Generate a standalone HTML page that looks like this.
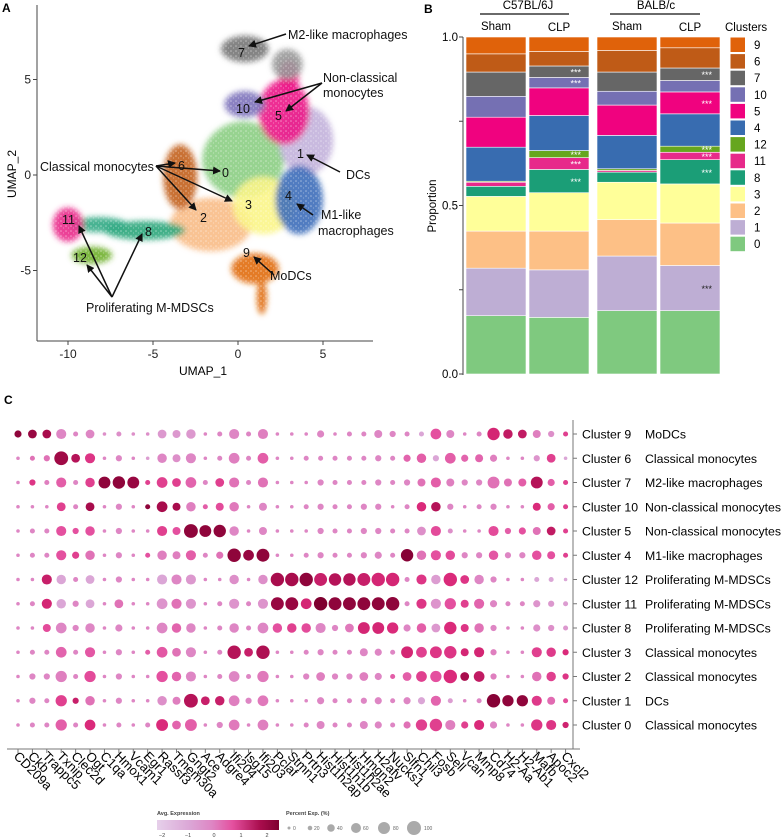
<!DOCTYPE html>
<html><head><meta charset="utf-8"><style>
html,body{margin:0;padding:0;background:#fff;}
svg{display:block;font-family:"Liberation Sans",Arial,sans-serif;}
</style></head><body>
<svg id="fig" width="782" height="837" viewBox="0 0 782 837" xmlns="http://www.w3.org/2000/svg">
<defs>
<marker id="ah" markerWidth="8" markerHeight="8" refX="7" refY="4" orient="auto" markerUnits="userSpaceOnUse"><path d="M0,0 L8,4 L0,8 z" fill="#111"/></marker>
<filter id="bl"><feGaussianBlur stdDeviation="3"/></filter>
<pattern id="speck" width="5" height="5" patternUnits="userSpaceOnUse"><rect width="5" height="5" fill="none"/><circle cx="1" cy="1" r="0.8" fill="#fff" opacity="0.45"/><circle cx="3.5" cy="3" r="0.6" fill="#fff" opacity="0.35"/></pattern>
<linearGradient id="expgrad" x1="0" x2="1" y1="0" y2="0">
<stop offset="0" stop-color="#e6d0ea"/><stop offset="0.27" stop-color="#dba6d6"/><stop offset="0.45" stop-color="#de86c4"/><stop offset="0.62" stop-color="#e4509f"/><stop offset="0.85" stop-color="#a80c4c"/><stop offset="1" stop-color="#7f0030"/>
</linearGradient>
</defs>
<!-- Panel A -->
<g>
<text x="2" y="12" font-size="12" font-weight="bold">A</text>
<g id="umapBlobs" filter="url(#bl)"></g>
<rect x="40" y="30" width="300" height="280" fill="url(#speck)"/>
<line x1="37" y1="5" x2="37" y2="341" stroke="#444"/>
<line x1="37" y1="341" x2="373" y2="341" stroke="#444"/>
<g id="umapTicks" font-size="12" fill="#222"></g>
<text x="203" y="375" font-size="12" text-anchor="middle">UMAP_1</text>
<text transform="translate(16,174) rotate(-90)" font-size="12" text-anchor="middle">UMAP_2</text>
<g font-size="12.5" fill="#111">
<text x="238" y="57">7</text><text x="236" y="113">10</text><text x="275" y="120">5</text><text x="297" y="158">1</text>
<text x="222" y="177">0</text><text x="178" y="170">6</text><text x="245" y="209">3</text><text x="200" y="222">2</text>
<text x="285" y="200">4</text><text x="243" y="257">9</text><text x="145" y="236">8</text><text x="62" y="224">11</text><text x="73" y="262">12</text>
</g>
<g stroke="#111" stroke-width="1.5" marker-end="url(#ah)">
<line x1="286" y1="34" x2="249" y2="46"/>
<line x1="322" y1="83" x2="255" y2="102"/><line x1="322" y1="83" x2="286" y2="111"/>
<line x1="156" y1="166" x2="175" y2="163"/><line x1="156" y1="166" x2="220" y2="171"/>
<line x1="156" y1="166" x2="232" y2="201"/><line x1="156" y1="166" x2="196" y2="210"/>
<line x1="340" y1="172" x2="307" y2="155"/><line x1="313" y1="215" x2="297" y2="204"/>
<line x1="274" y1="275" x2="254" y2="257"/>
<line x1="112" y1="297" x2="79" y2="226"/><line x1="112" y1="297" x2="87" y2="265"/><line x1="112" y1="297" x2="142" y2="234"/>
</g>
<g font-size="12.5" fill="#111">
<text x="288" y="39">M2-like macrophages</text>
<text x="323" y="82">Non-classical</text><text x="323" y="97">monocytes</text>
<text x="40" y="171">Classical monocytes</text>
<text x="346" y="179">DCs</text>
<text x="321" y="219">M1-like</text><text x="318" y="235">macrophages</text>
<text x="270" y="280">MoDCs</text>
<text x="86" y="312">Proliferating M-MDSCs</text>
</g>
</g>
<!-- Panel B -->
<g>
<text x="424" y="13" font-size="12" font-weight="bold">B</text>
<text x="528" y="9" font-size="11.5" text-anchor="middle">C57BL/6J</text>
<line x1="480" y1="14" x2="569" y2="14" stroke="#111" stroke-width="1.3"/>
<text x="656" y="9" font-size="11.5" text-anchor="middle">BALB/c</text>
<line x1="610" y1="14" x2="700" y2="14" stroke="#111" stroke-width="1.3"/>
<g id="bars"></g>
<line x1="463" y1="37" x2="463" y2="375" stroke="#444"/>
<g id="propTicks" font-size="11.5"></g>
<text transform="translate(436,206) rotate(-90)" font-size="11.5" text-anchor="middle">Proportion</text>
<text x="725" y="31" font-size="11.5">Clusters</text>
<g id="legend" font-size="11.5"></g>
</g>
<!-- Panel C -->
<g>
<text x="4" y="404" font-size="12" font-weight="bold">C</text>
<line x1="573" y1="420" x2="573" y2="749" stroke="#777"/>
<line x1="7" y1="749" x2="580" y2="749" stroke="#777"/>
<g id="dots"></g>
<g id="rowLabels" font-size="12.3"></g>
<g id="geneLabels" font-size="13"></g>
<g>
<text x="157" y="815" font-size="5.5" font-weight="bold" fill="#444">Avg. Expression</text>
<rect x="157" y="820" width="122" height="10" fill="url(#expgrad)"/>
<g font-size="5.5" fill="#444" text-anchor="middle"><text x="162" y="837">−2</text><text x="188" y="837">−1</text><text x="214" y="837">0</text><text x="241" y="837">1</text><text x="267" y="837">2</text></g>
</g>
<g fill="#aaa">
<text x="286" y="815" font-size="5.5" font-weight="bold" fill="#444">Percent Exp. (%)</text>
<circle cx="289" cy="828" r="1.5"/><text x="293" y="830" font-size="5" fill="#666">0</text>
<circle cx="310" cy="828" r="2.3"/><text x="314" y="830" font-size="5" fill="#666">20</text>
<circle cx="331" cy="828" r="3.8"/><text x="337" y="830" font-size="5" fill="#666">40</text>
<circle cx="356" cy="828" r="5"/><text x="363" y="830" font-size="5" fill="#666">60</text>
<circle cx="384" cy="828" r="6"/><text x="393" y="830" font-size="5" fill="#666">80</text>
<circle cx="414" cy="828" r="7"/><text x="424" y="830" font-size="5" fill="#666">100</text>
</g>
</g>
</svg>
<script>
const NS="http://www.w3.org/2000/svg";
function mk(tag,attrs,parent){const e=document.createElementNS(NS,tag);for(const k in attrs)e.setAttribute(k,attrs[k]);parent.appendChild(e);return e;}

/* ---------- Panel A data ---------- */
const umapTicksX=[-10,-5,0,5];
const umapTicksY=[5,0,-5];
const umapClusters=["7","7b","5","5b","10","1","4","0","3","2","6","9","9b","8","8b","11","12"];
const umapCU=[0.4,2.9,2.7,3.0,0.4,4.0,3.6,0.3,1.5,-1.6,-3.4,1.0,1.4,-5.5,-8.2,-10,-8.6];
const umapCV=[6.6,5.8,3.3,5.2,3.7,1.8,-1.3,0.8,-1.6,-2.6,-0.1,-4.9,-6.4,-2.9,-2.6,-2.6,-4.2];
const umapRU=[1.4,0.9,1.5,0.6,1.2,1.6,1.4,2.4,1.8,2.4,1.0,1.4,0.3,2.4,1.7,0.9,1.2];
const umapRV=[0.7,0.8,1.7,0.8,0.7,1.8,1.8,2.0,1.5,1.4,1.7,0.8,0.9,0.5,0.4,0.9,0.45];
const umapColor={"7":"#777","7b":"#999","5":"#ec1a88","5b":"#ec1a88","10":"#7e74bb","1":"#c3b3dc","4":"#3f6fba","0":"#8cce84","3":"#fbf58a","2":"#f8bd87","6":"#c3621d","9":"#e16d12","9b":"#e06d10","8":"#2ea77c","8b":"#34ab86","11":"#ea2c8c","12":"#70b02c"};
const ux=u=>238+17*u, uy=v=>175-19.1*v;
const blobs=document.getElementById('umapBlobs');
["2","0","3","6","1","4","5","5b","10","7b","7","9","9b","8","8b","11","12"].forEach(c=>{
  const i=umapClusters.indexOf(c);
  const el=mk('ellipse',{cx:ux(umapCU[i]),cy:uy(umapCV[i]),rx:umapRU[i]*17,ry:umapRV[i]*19.1,fill:umapColor[c],opacity:0.9},blobs);
  
  
});
const ut=document.getElementById('umapTicks');
umapTicksX.forEach(t=>{mk('line',{x1:ux(t),x2:ux(t),y1:341,y2:345,stroke:'#444'},ut);const e=mk('text',{x:ux(t),y:358,'text-anchor':'middle'},ut);e.textContent=t;
  
  });
umapTicksY.forEach(t=>{mk('line',{x1:33,x2:37,y1:uy(t),y2:uy(t),stroke:'#444'},ut);const e=mk('text',{x:31,y:uy(t)+4,'text-anchor':'end'},ut);e.textContent=t;
  
  });

/* ---------- Panel B data ---------- */
const stackOrder=["0","1","2","3","8","11","12","4","5","10","7","6","9"];
const clusterColors=["#7fc97f","#beaed4","#fdc086","#ffff99","#1b9e77","#e7298a","#66a61e","#386cb0","#f0027f","#7570b3","#666666","#bf5b17","#e0620a"];
const barGroups=["Sham","CLP","Sham","CLP"];
const propC57Sham=[0.173,0.141,0.110,0.103,0.030,0.012,0.003,0.101,0.089,0.062,0.072,0.054,0.050];
const propC57CLP=[0.168,0.141,0.115,0.114,0.069,0.035,0.021,0.104,0.082,0.031,0.034,0.043,0.043];
const propBalbSham=[0.188,0.162,0.108,0.111,0.030,0.005,0.005,0.099,0.090,0.041,0.057,0.064,0.040];
const propBalbCLP=[0.188,0.134,0.126,0.116,0.072,0.022,0.018,0.096,0.065,0.034,0.037,0.060,0.032];
const sigC57CLP=["8","11","12","10","7"];
const sigBalbCLP=["1","8","11","12","5","7"];
const propTicks=[0,0.5,1];
const py=p=>374-337*p;
const barX=[466,529,597,660], barW=60;
const series=[propC57Sham,propC57CLP,propBalbSham,propBalbCLP];
const sigs=[[],sigC57CLP,[],sigBalbCLP];
const bars=document.getElementById('bars');
series.forEach((vals,b)=>{
  let cum=0;
  const tot=vals.reduce((a,c)=>a+c,0);
  vals.forEach((v,k)=>{
    const p0=cum/tot, p1=(cum+v)/tot; cum+=v;
    const r=mk('rect',{x:barX[b],y:py(p1),width:barW,height:py(p0)-py(p1),fill:clusterColors[k],stroke:'#fff','stroke-width':0.6},bars);
    
    
    if(sigs[b].includes(stackOrder[k])){
      const t=mk('text',{x:barX[b]+barW-8,y:(py(p0)+py(p1))/2+4,'text-anchor':'end','font-size':9,fill:stackOrder[k]==="1"?'#222':'#fff'},bars);
      t.textContent='***';
      
      
    }
  });
  const lab=mk('text',{x:barX[b]+barW/2,y:b%2?31:30,'text-anchor':'middle','font-size':11.5},bars);
  lab.textContent=barGroups[b];
  
  
});
const ptk=document.getElementById('propTicks');
propTicks.forEach(t=>{mk('line',{x1:459,x2:463,y1:py(t),y2:py(t),stroke:'#444'},ptk);const e=mk('text',{x:458,y:py(t)+4,'text-anchor':'end'},ptk);e.textContent=t.toFixed(1);
  
  });
mk('line',{x1:459,x2:463,y1:py(0.25),y2:py(0.25),stroke:'#444'},ptk);mk('line',{x1:459,x2:463,y1:py(0.75),y2:py(0.75),stroke:'#444'},ptk);
const leg=document.getElementById('legend');
const legOrder=stackOrder.slice().reverse();
legOrder.forEach((c,i)=>{
  const k=stackOrder.indexOf(c);
  const y=37+i*16.6;
  const r=mk('rect',{x:730,y:y,width:15.5,height:15.5,fill:clusterColors[k],stroke:'#fff'},leg);
  
  
  const t=mk('text',{x:754,y:y+12},leg);t.textContent=c;
  
  
});

/* ---------- Panel C data ---------- */
const genes=["CD209a","Ckb","Trappc5","Txnip","Clec2d","Ogt","C1qa","Hmox1","Vcam1","Egr1","Rassf3","Tmem30a","Gngt2","Ace","Adgre4","Ifi204","Isg15","Ifi203","Pclaf","Stmn1","Prtn3","Hist1h2ap","Hist1h1b","Hist1h2ae","Hmgn2","H2afv","Nucks1","Slfn1","Chil3","Fosb","Sell","Vcan","Mmp8","Cd74","H2-Aa","H2-Ab1","Mafb","Apoc2","Cxcl2"];
const rowClusters=["Cluster 9","Cluster 6","Cluster 7","Cluster 10","Cluster 5","Cluster 4","Cluster 12","Cluster 11","Cluster 8","Cluster 3","Cluster 2","Cluster 1","Cluster 0"];
const rowNames=["MoDCs","Classical monocytes","M2-like macrophages","Non-classical monocytes","Non-classical monocytes","M1-like macrophages","Proliferating M-MDSCs","Proliferating M-MDSCs","Proliferating M-MDSCs","Classical monocytes","Classical monocytes","DCs","Classical monocytes"];
const pct9=[20,30,30,40,10,30,5,10,5,5,30,25,35,5,10,40,10,40,5,5,5,20,5,10,10,25,15,10,10,45,25,5,10,60,35,30,25,15,10];
const exp9=[2.3,2.2,2.0,-0.3,-0.3,-0.3,-0.5,-0.5,-0.5,-0.5,-0.7,-0.7,-0.7,-0.3,-0.3,-0.3,-0.3,-0.2,-0.3,-0.3,-0.3,-0.3,-0.3,-0.3,-0.3,-0.3,-0.3,-0.3,-1,0.5,-0.3,-0.3,-0.3,1.3,1.6,1.6,-0.2,-0.5,0.8];
const pct6=[5,10,15,75,30,40,5,15,5,5,35,25,40,5,10,45,10,45,5,5,10,10,10,10,10,15,10,20,35,15,45,20,25,20,5,5,15,30,5];
const exp6=[-0.3,0,0,2.1,1.8,1.0,-0.3,-0.3,-0.3,-0.8,-0.3,-0.5,-0.3,-0.3,-0.3,-0.2,-0.3,0.3,-0.3,-0.3,-0.3,-0.3,-0.3,-0.3,-0.3,-0.3,-0.3,0.2,0.3,-1,0.3,0.2,0.2,-0.2,-0.3,-0.3,-0.6,0.8,-1];
const pct7=[5,15,10,40,10,35,55,60,55,10,45,30,45,10,30,40,10,40,5,5,5,15,10,10,10,15,10,15,25,40,25,15,15,55,25,25,55,20,10];
const exp7=[-0.3,1.0,-0.2,0.3,-0.3,0.8,2.3,2.3,2.2,0.8,0.8,0.8,0.2,-0.3,0.8,0,-0.3,0,-0.3,-0.3,-0.3,-0.3,-0.3,-0.3,-0.3,-0.3,-0.3,-0.3,0,0.3,-0.2,-0.3,-0.3,0,0,0.3,1.8,0.3,0.8];
const pct10=[5,5,5,30,10,30,5,15,5,10,45,25,35,10,25,35,5,25,5,5,10,15,10,10,15,15,5,10,35,35,15,5,10,15,5,5,25,20,10];
const exp10=[-0.3,-0.3,-0.3,0.8,-0.3,2.0,-0.3,-0.3,-0.3,2.3,2.0,2.0,-0.2,0.3,0.6,-0.1,-0.3,-0.3,-0.3,-0.3,-0.3,-0.3,-0.3,-0.3,-0.3,-0.3,-0.3,-0.3,1.2,1.8,-0.3,-0.3,-0.3,-0.3,-0.3,-0.3,1.2,0.3,0.8];
const pct5=[5,10,10,40,15,35,5,15,5,5,40,25,75,55,60,35,5,25,5,5,5,15,10,10,15,15,10,10,30,40,10,5,5,40,15,20,25,30,10];
const exp5=[-0.3,-0.3,-0.3,0.5,0.5,0.5,-0.3,-0.3,-0.3,-0.3,0.8,0.5,2.3,2.3,2.3,-0.3,-0.3,-0.3,-0.3,-0.3,-0.3,-0.3,-0.3,-0.3,-0.3,-0.3,-0.3,-0.3,-0.5,0.6,-0.5,-0.3,-0.3,0.6,0.3,0.5,0,1.6,0.8];
const pct4=[5,10,10,40,20,35,5,15,5,10,35,25,40,10,20,70,45,65,5,5,10,15,10,10,15,20,10,60,35,40,35,15,15,35,15,15,35,25,10];
const exp4=[-0.3,-0.3,-0.3,0.5,0.8,0,-0.3,-0.3,-0.3,0.5,-0.2,-0.2,0.3,-0.3,0,2.3,2.2,2.3,-0.3,-0.3,-0.3,-0.3,-0.3,-0.3,-0.3,-0.3,-0.3,2.4,0,0.5,0.6,-0.3,-0.3,0.4,-0.3,-0.3,0.5,0.5,0.8];
const pct12=[5,5,40,35,10,30,5,15,5,5,40,40,40,5,5,35,5,35,70,70,70,65,60,60,65,70,70,10,40,35,70,30,35,15,5,5,10,10,5];
const exp12=[-0.3,-0.3,1.5,-1,-0.3,-1,-0.3,-0.3,-0.3,-0.3,-1,-0.3,-0.7,-0.3,-0.3,-0.5,-0.3,-0.5,2.0,2.0,2.3,1.5,1.8,1.8,1.5,1.3,1.3,-0.3,1.0,-0.8,1.2,1.0,-0.3,-0.3,-0.3,-0.3,-1,-1,-1];
const pct11=[5,10,40,35,15,30,5,30,5,5,45,40,40,5,10,40,10,40,65,65,45,70,65,65,65,65,70,10,40,40,50,25,40,20,10,10,20,15,10];
const exp11=[-0.3,-0.3,1.3,-1,-0.3,-1,-0.3,0,-0.3,-0.3,-0.6,0,-0.6,-0.3,-0.3,-0.6,-0.3,-0.6,2.2,2.2,1.3,2.5,2.3,2.3,2.3,2.3,2.3,-0.3,1.0,-0.6,0.5,0.8,0.2,-0.3,-0.3,-0.3,-0.6,-0.7,-0.8];
const pct8=[5,5,25,45,15,35,5,20,5,5,45,35,35,5,10,35,10,45,35,35,35,40,15,30,55,55,50,20,35,30,60,25,35,15,5,5,20,15,10];
const exp8=[-0.3,-0.3,0.6,-0.3,-0.3,-0.3,-0.3,-0.3,-0.3,-0.3,-0.3,0.2,-0.3,-0.3,-0.3,-0.3,-0.3,-0.3,0.5,0.8,0.6,-0.3,-0.3,-0.1,1.3,1.3,1.2,-0.3,0.3,-0.7,1.2,1.0,0,-0.3,-0.3,-0.3,-0.5,-0.5,-0.7];
const pct3=[5,10,10,45,10,40,5,15,5,10,45,30,40,5,10,70,30,70,5,5,10,15,10,10,25,20,10,55,45,55,60,25,40,15,5,5,40,35,15];
const exp3=[-0.3,-0.3,-0.3,0.2,-0.3,0.4,-0.3,-0.3,-0.3,0.3,0.4,0,-0.3,-0.3,-0.3,1.8,1.5,1.9,-0.3,-0.3,-0.3,-0.3,-0.3,-0.3,-0.3,-0.3,-0.3,1.3,0.8,1.0,1.0,1.3,1.3,-0.2,-0.3,-0.3,0.8,0.9,1.2];
const pct2=[5,15,15,50,10,50,5,15,5,5,50,35,40,5,10,45,10,50,5,5,15,30,15,15,30,20,10,30,45,50,70,30,45,15,5,5,35,35,15];
const exp2=[-0.3,-0.3,-0.3,-0.2,-0.3,0.6,-0.3,-0.3,-0.3,-0.3,0.5,0.2,-0.3,-0.3,-0.3,-0.3,-0.3,-0.1,-0.3,-0.3,-0.3,-0.2,-0.3,-0.3,-0.2,-0.3,0.3,0.3,0.8,0.5,1.2,2.0,1.6,-0.2,-0.3,-0.3,0,0.8,1.0];
const pct1=[5,15,10,50,15,35,5,15,5,5,35,25,75,30,35,45,15,45,5,5,5,20,10,10,15,20,10,20,20,40,10,5,10,70,50,50,40,25,10];
const exp1=[-0.3,-0.3,-0.3,0.8,1.5,0,-0.3,-0.3,-0.3,-0.3,-0.5,-0.2,1.8,1.5,1.5,-0.2,-0.3,-0.1,-0.3,-0.3,-0.3,-0.3,-0.3,-0.3,-0.3,-0.3,-0.3,-0.3,-1,0.2,-0.8,-0.3,-0.3,2.4,2.3,2.3,0.9,0.1,0.6];
const pct0=[5,10,10,50,10,45,5,10,5,10,55,30,55,5,15,45,5,45,5,5,10,25,10,10,25,20,10,20,50,60,40,20,40,20,5,5,50,40,15];
const exp0=[-0.3,-0.3,-0.3,0.3,-0.3,1.2,-0.3,-0.3,-0.3,-0.3,1.2,0.2,0.3,-0.3,-0.3,-0.1,-0.3,-0.2,-0.3,-0.3,-0.3,-0.3,-0.3,-0.3,-0.3,-0.3,-0.3,0,0.8,0.8,-0.2,0.8,1.2,-0.3,-0.3,-0.3,1.0,1.0,1.4];
const pctRows=[pct9,pct6,pct7,pct10,pct5,pct4,pct12,pct11,pct8,pct3,pct2,pct1,pct0];
const expRows=[exp9,exp6,exp7,exp10,exp5,exp4,exp12,exp11,exp8,exp3,exp2,exp1,exp0];

const gx=i=>18+i*14.41, ry=j=>434+j*24.25;
const rScale=p=>8*Math.sqrt(Math.max(p,3)/100);
const cStops=[[-2.2,[230,208,234]],[-1,[219,166,214]],[-0.3,[222,134,196]],[0.5,[228,80,159]],[1.2,[218,42,122]],[2,[168,12,76]],[2.5,[127,0,48]]];
function col(v){
  if(v<=cStops[0][0])return 'rgb('+cStops[0][1]+')';
  for(let i=1;i<cStops.length;i++){if(v<=cStops[i][0]){const [a,ca]=cStops[i-1],[b,cb]=cStops[i];const t=(v-a)/(b-a);return 'rgb('+ca.map((x,k)=>Math.round(x+(cb[k]-x)*t)).join(',')+')';}}
  return 'rgb('+cStops[cStops.length-1][1]+')';
}
const dots=document.getElementById('dots');
pctRows.forEach((row,j)=>{
  row.forEach((p,i)=>{
    const c=mk('circle',{cx:gx(i),cy:ry(j),r:rScale(p),fill:col(expRows[j][i])},dots);
    
    
  });
});
const rl=document.getElementById('rowLabels');
rowClusters.forEach((c,j)=>{
  mk('line',{x1:573,x2:577,y1:ry(j),y2:ry(j),stroke:'#777'},rl);
  const t=mk('text',{x:582,y:ry(j)+4.5},rl);t.textContent=c;
  
  
  const n=mk('text',{x:645,y:ry(j)+4.5},rl);n.textContent=rowNames[j];
  
  
});
const gl=document.getElementById('geneLabels');
genes.forEach((g,i)=>{
  mk('line',{x1:gx(i),x2:gx(i),y1:749,y2:753,stroke:'#777'},gl);
  const t=mk('text',{transform:'translate('+(gx(i)-5)+',757) rotate(45)'},gl);t.textContent=g;
  
  
});
</script>
</body></html>
